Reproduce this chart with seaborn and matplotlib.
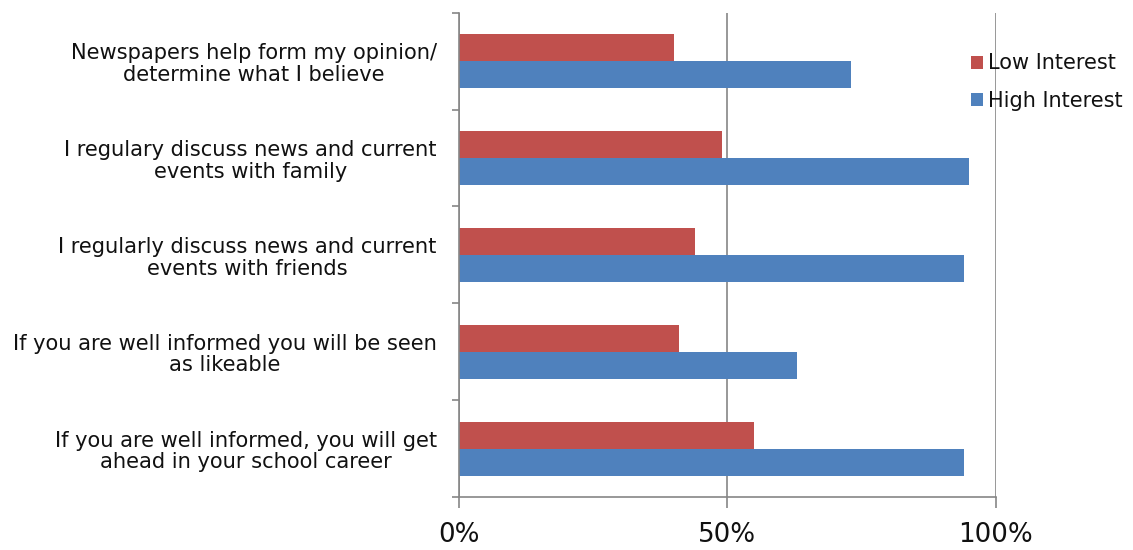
import matplotlib
matplotlib.use("Agg")
import matplotlib.pyplot as plt
import seaborn as sns
import pandas as pd
from matplotlib.patches import Patch

statements = [
    "Newspapers help form my opinion/\ndetermine what I believe",
    "I regulary discuss news and current\nevents with family",
    "I regularly discuss news and current\nevents with friends",
    "If you are well informed you will be seen\nas likeable",
    "If you are well informed, you will get\nahead in your school career",
]
low_interest = [40, 49, 44, 41, 55]
high_interest = [73, 95, 94, 63, 94]
series = ["Low Interest", "High Interest"]
colors = ["#C0504D", "#4F81BD"]
x_ticks = [0, 50, 100]
x_ticklabels = ["0%", "50%", "100%"]

df = pd.DataFrame({
    "statement": statements * 2,
    "share": low_interest + high_interest,
    "group": [series[0]] * len(statements) + [series[1]] * len(statements),
})

sns.set_style("white")
plt.rcParams["font.family"] = ["DejaVu Sans"]

fig = plt.figure(figsize=(11.33, 5.5), dpi=100)
ax = fig.add_axes([0.405, 0.096, 0.474, 0.881])

sns.barplot(data=df, y="statement", x="share", hue="group",
            order=statements, hue_order=series, palette=colors,
            orient="h", width=0.56, gap=0, linewidth=0, saturation=1,
            legend=False, ax=ax)

ax.set_xlim(0, 100)
ax.set_ylim(len(statements) - 0.5, -0.5)
ax.set_xticks(x_ticks)
ax.set_xticklabels(x_ticklabels, fontsize=18.8, color="#111111")
ax.set_xlabel("")
ax.set_ylabel("")

ax.set_yticks(range(len(statements)))
ax.set_yticklabels(statements, fontsize=15.1, color="#111111",
                   multialignment="center", linespacing=1.1)
ax.set_yticks([i - 0.5 for i in range(len(statements) + 1)], minor=True)
ax.tick_params(axis="y", which="major", left=True, length=0, pad=16)
ax.tick_params(axis="y", which="minor", left=True, length=5, width=1.2,
               color="#868686", direction="out")
ax.tick_params(axis="x", which="major", bottom=True, length=8, width=1.2,
               color="#868686", direction="out", pad=10)

ax.xaxis.grid(True, color="#868686", linewidth=1.2)
ax.yaxis.grid(False)
ax.set_axisbelow(True)
for side in ["top", "right"]:
    ax.spines[side].set_visible(False)
for side in ["left", "bottom"]:
    ax.spines[side].set_color("#868686")
    ax.spines[side].set_linewidth(1.2)

handles = [Patch(facecolor=c, edgecolor="none", label=s)
           for c, s in zip(colors, series)]
leg = fig.legend(handles=handles, loc="upper left",
                 bbox_to_anchor=(0.850, 0.918), frameon=False,
                 fontsize=15, handlelength=0.58, handleheight=0.58,
                 handletextpad=0.2, labelspacing=0.82, borderaxespad=0)
for t in leg.get_texts():
    t.set_color("#111111")

fig.savefig("out.png", dpi=100)
